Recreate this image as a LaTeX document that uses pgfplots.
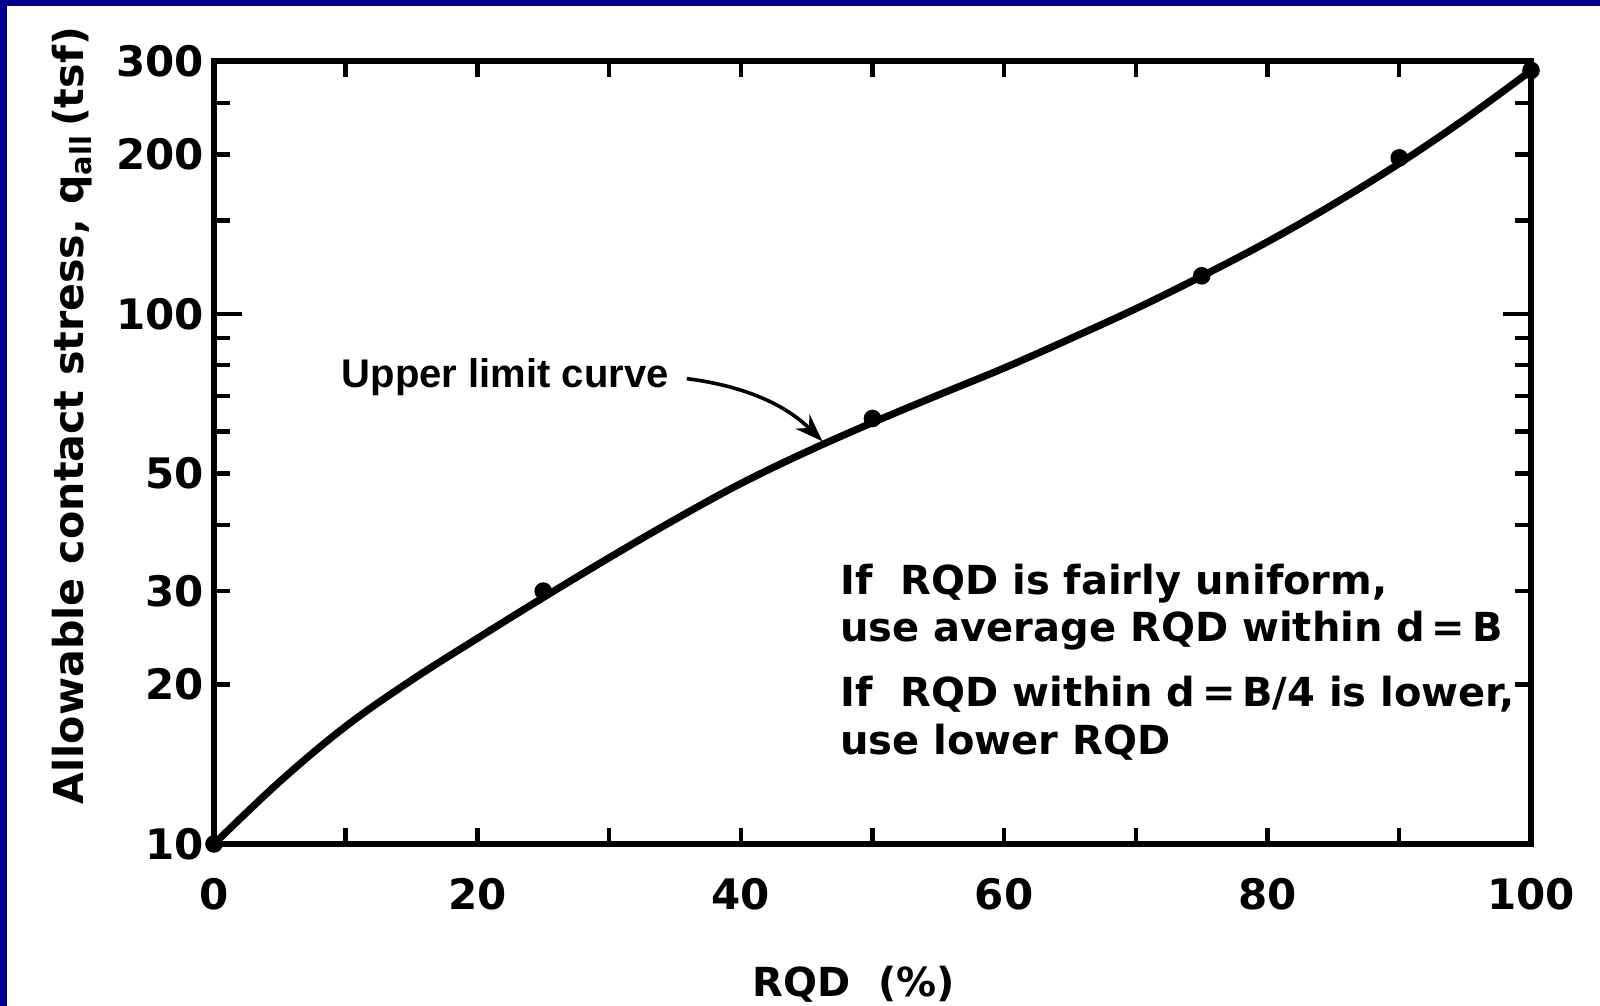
\documentclass[border=0pt]{standalone}
\usepackage{pgfplots}
\pgfplotsset{compat=1.18}
\usepackage{fontspec}
\setmainfont{DejaVu Sans}
\newfontfamily\libsans{Liberation Sans}
\usetikzlibrary{arrows.meta}
\definecolor{navyb}{RGB}{0,0,140}
\begin{document}
\begin{tikzpicture}
\useasboundingbox (0,0) rectangle (400pt,251.5pt);
\fill[navyb] (0,0) rectangle (400pt,251.5pt);
\fill[white] (1.75pt,0) rectangle (400pt,250pt);
\begin{axis}[
  at={(53.5pt,40.5pt)}, anchor=south west,
  width=329.25pt, height=195.75pt, scale only axis,
  xmin=0, xmax=100, ymin=10, ymax=300, ymode=log,
  xtick={0,20,40,60,80,100}, minor xtick={10,30,50,70,90},
  ytick={10,20,30,50,100,200,300}, yticklabels={10,20,30,50,100,200,300},
  minor ytick={40,60,70,80,90,150,250},
  extra y ticks={100}, extra y tick labels={},
  extra y tick style={major tick length=7pt},
  major tick length=4pt, minor tick length=4pt,
  every tick/.style={black, line width=1.1pt},
  axis line style={line width=1.5pt},
  /pgf/number format/assume math mode=true,
  ticklabel style={font=\bfseries\fontsize{10.5}{12}\selectfont},
  xticklabel style={yshift=-5pt},
  yticklabel style={xshift=1pt},
  xlabel={RQD\ \ (\%)},
  xlabel style={at={(axis description cs:0.486,0)}, yshift=-35pt, anchor=center, font=\bfseries\fontsize{10}{12}\selectfont},
  ylabel={Allowable\ contact\ stress,\ q\textsubscript{all}\,(tsf)},
  ylabel style={at={(axis description cs:0,0.547)}, yshift=35.5pt, anchor=center, font=\bfseries\fontsize{10.3}{12}\selectfont},
]
\addplot[black, line width=1.8pt, smooth, tension=0.6] coordinates {
(0,10) (5,13.12) (10,16.67) (15,20.37) (20,24.43) (25,29.17) (30,34.67)
(35,40.93) (40,47.86) (45,54.95) (50,62.37) (55,70.31) (60,79.07) (65,89.74)
(70,102.3) (75,117.8) (80,136.8) (85,161.1) (90,192.3) (95,233.3) (100,287.7)};
\addplot[black, only marks, mark=*, mark size=2pt] coordinates {
(0,10) (25,30) (50,63.5) (75,118) (90,197) (100,288)};
\node[anchor=east, font=\libsans\bfseries\fontsize{10}{12}\selectfont] at (axis cs:35.6,76) {Upper limit curve};
\draw[black, line width=0.9pt, -{Stealth[length=7pt,width=5pt]}] (axis cs:35.9,75.5) .. controls (axis cs:40.5,73) and (axis cs:43.5,67) .. (axis cs:46.2,57.5);
\begin{scope}[every node/.style={anchor=base west, inner sep=0pt, font=\bfseries\fontsize{10}{12}\selectfont}]
\node at (rel axis cs:0.475,0.318) {If\ \ RQD is fairly uniform,};
\node at (rel axis cs:0.475,0.259) {use average RQD within d\,=\,B};
\node at (rel axis cs:0.475,0.176) {If\ \ RQD within d\,=\,B/4 is lower,};
\node at (rel axis cs:0.475,0.114) {use lower RQD};
\end{scope}
\end{axis}
\end{tikzpicture}
\end{document}
